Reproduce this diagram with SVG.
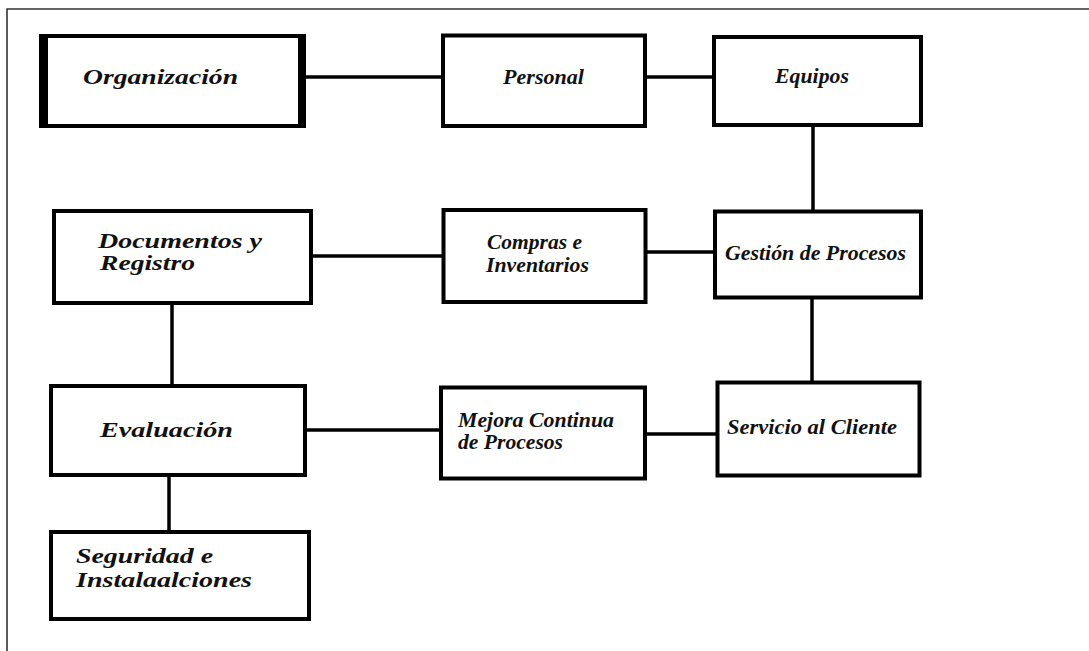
<svg xmlns="http://www.w3.org/2000/svg" width="1089" height="651" viewBox="0 0 1089 651">
  <style>
    .box { fill: #ffffff; stroke: #000000; stroke-width: 4; }
    .link { stroke: #000000; stroke-width: 3.5; fill: none; }
    .frame { stroke: #333333; stroke-width: 1.6; fill: none; }
    .label { font-family: 'Liberation Serif', 'Times New Roman', serif; font-style: italic; font-weight: bold; font-size: 20px; fill: #111111; }
  </style>
  <rect x="0" y="0" width="1089" height="651" fill="#ffffff"/>

  <!-- page frame: top and left edges only -->
  <path class="frame" d="M7 651 V9 H1089"/>

  <!-- connectors -->
  <g id="connectors">
    <line class="link" x1="306" y1="77" x2="451" y2="77"/>
    <line class="link" x1="645" y1="77" x2="714" y2="77"/>
    <line class="link" x1="813" y1="125" x2="813" y2="211"/>
    <line class="link" x1="311" y1="256" x2="446" y2="256"/>
    <line class="link" x1="645" y1="252" x2="717" y2="252"/>
    <line class="link" x1="812" y1="297" x2="812" y2="386"/>
    <line class="link" x1="172" y1="303" x2="172" y2="388"/>
    <line class="link" x1="305" y1="430" x2="441" y2="430"/>
    <line class="link" x1="645" y1="434" x2="717" y2="434"/>
    <line class="link" x1="169" y1="475" x2="169" y2="533"/>
  </g>

  <g id="organizacion">
    <rect class="box" x="43.5" y="36" width="259" height="90"/>
    <!-- heavier side bars -->
    <rect x="39" y="34" width="9" height="94" fill="#000"/>
    <rect x="298" y="34" width="8" height="94" fill="#000"/>
    <text class="label" x="83" y="84" textLength="155" lengthAdjust="spacingAndGlyphs">Organización</text>
  </g>

  <g id="personal">
    <rect class="box" x="443" y="35.5" width="202" height="90.5"/>
    <text class="label" x="503" y="84" textLength="81" lengthAdjust="spacingAndGlyphs">Personal</text>
  </g>

  <g id="equipos">
    <rect class="box" x="714" y="37" width="207" height="88"/>
    <text class="label" x="775" y="83" textLength="74" lengthAdjust="spacingAndGlyphs">Equipos</text>
  </g>

  <g id="documentos">
    <rect class="box" x="54" y="211" width="257" height="92"/>
    <text class="label" x="98" y="248" textLength="164" lengthAdjust="spacingAndGlyphs">Documentos y</text>
    <text class="label" x="100" y="270" textLength="95" lengthAdjust="spacingAndGlyphs">Registro</text>
  </g>

  <g id="compras">
    <rect class="box" x="443.5" y="210" width="202" height="92"/>
    <text class="label" x="487" y="249" textLength="95" lengthAdjust="spacingAndGlyphs">Compras e</text>
    <text class="label" x="486" y="272" textLength="103" lengthAdjust="spacingAndGlyphs">Inventarios</text>
  </g>

  <g id="gestion">
    <rect class="box" x="715" y="211.5" width="206" height="86"/>
    <text class="label" x="725" y="260" textLength="181" lengthAdjust="spacingAndGlyphs">Gestión de Procesos</text>
  </g>

  <g id="evaluacion">
    <rect class="box" x="51" y="386" width="254" height="89"/>
    <text class="label" x="100" y="437" textLength="133" lengthAdjust="spacingAndGlyphs">Evaluación</text>
  </g>

  <g id="mejora">
    <rect class="box" x="441" y="387.5" width="204" height="91"/>
    <text class="label" x="458" y="427" textLength="156" lengthAdjust="spacingAndGlyphs">Mejora Continua</text>
    <text class="label" x="458" y="449" textLength="105" lengthAdjust="spacingAndGlyphs">de Procesos</text>
  </g>

  <g id="servicio">
    <rect class="box" x="717.5" y="382.5" width="202" height="93"/>
    <text class="label" x="727" y="434" textLength="170" lengthAdjust="spacingAndGlyphs">Servicio al Cliente</text>
  </g>

  <g id="seguridad">
    <rect class="box" x="51" y="532" width="258" height="87"/>
    <text class="label" x="76" y="563" textLength="137" lengthAdjust="spacingAndGlyphs">Seguridad e</text>
    <text class="label" x="76" y="587" textLength="176" lengthAdjust="spacingAndGlyphs">Instalaalciones</text>
  </g>
</svg>
